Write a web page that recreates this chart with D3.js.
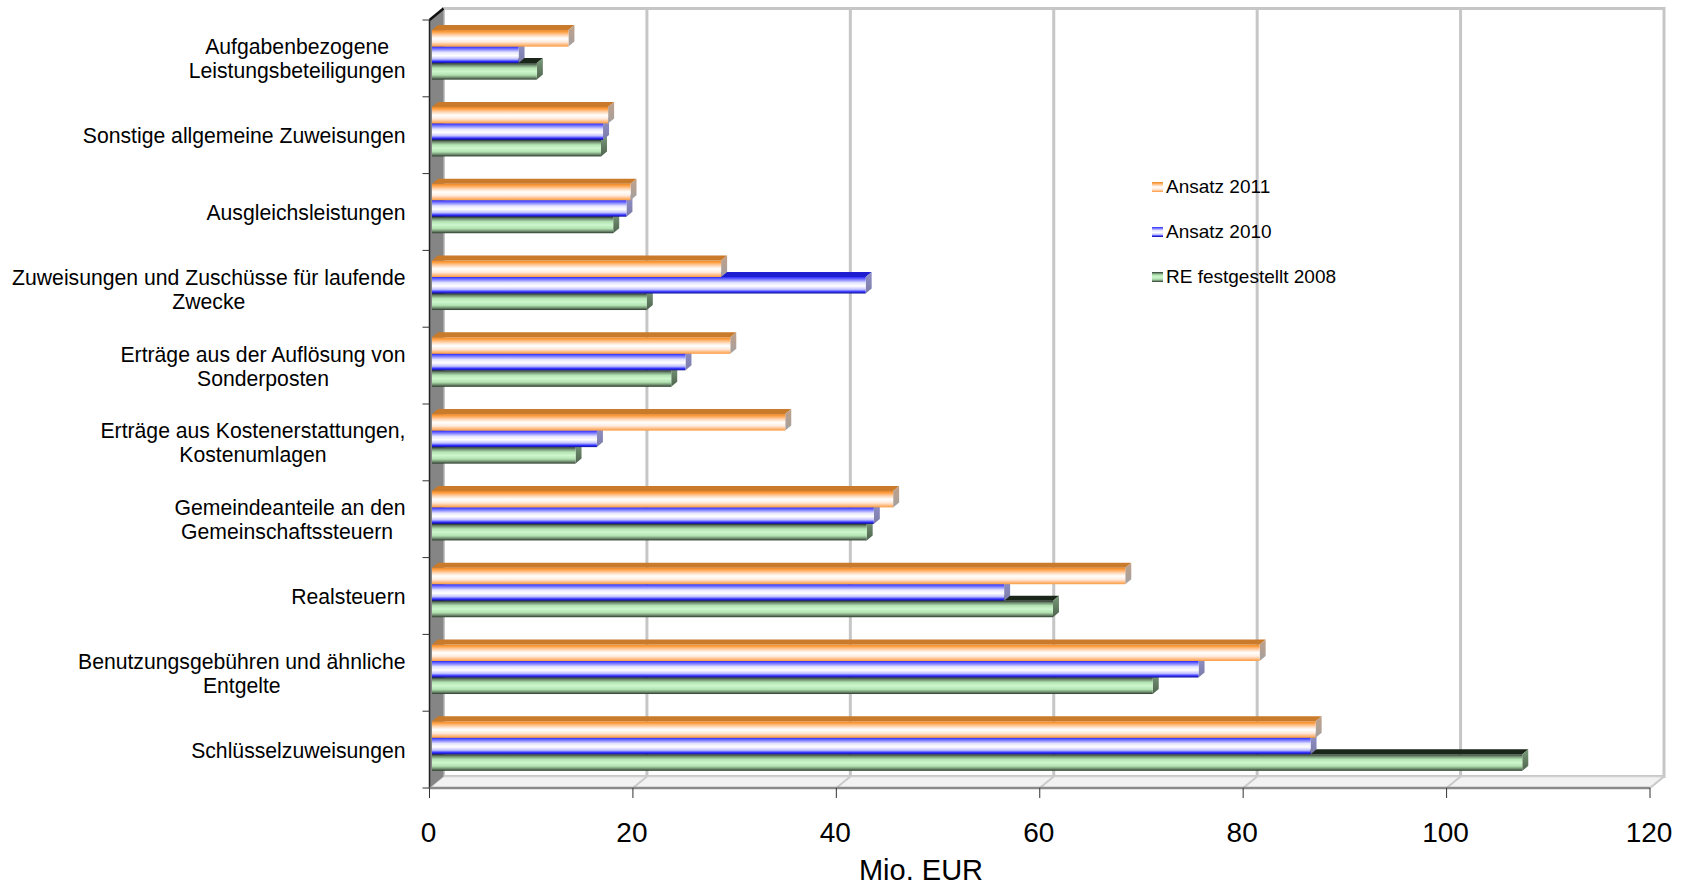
<!DOCTYPE html>
<html><head><meta charset="utf-8">
<script src="https://cdn.jsdelivr.net/npm/d3@7"></script>
<style>
body{margin:0;background:#fff}
svg{display:block}
text{font-family:"Liberation Sans", Arial, sans-serif; fill:#000}
</style>
</head><body>
<svg id="chart" width="1684" height="886"></svg>
<script>
// ---------------- data ----------------
const categories = [
  "Aufgabenbezogene\nLeistungsbeteiligungen",
  "Sonstige allgemeine Zuweisungen",
  "Ausgleichsleistungen",
  "Zuweisungen und Zuschüsse für laufende\nZwecke",
  "Erträge aus der Auflösung von\nSonderposten",
  "Erträge aus Kostenerstattungen,\nKostenumlagen",
  "Gemeindeanteile an den\nGemeinschaftssteuern ",
  "Realsteuern",
  "Benutzungsgebühren und ähnliche\nEntgelte",
  "Schlüsselzuweisungen"
];
const seriesNames = ["Ansatz 2011", "Ansatz 2010", "RE festgestellt 2008"];
const ansatz2011 = [13.4, 17.3, 19.5, 28.4, 29.3, 34.7, 45.3, 68.1, 81.3, 86.8];
const ansatz2010 = [8.5, 16.8, 19.1, 42.6, 24.9, 16.2, 43.4, 56.2, 75.3, 86.3];
const re2008     = [10.3, 16.6, 17.8, 21.1, 23.5, 14.1, 42.7, 61.0, 70.8, 107.1];
const xTicks = [0, 20, 40, 60, 80, 100, 120];
const axisTitle = "Mio. EUR";

// ---------------- layout ----------------
const svg = d3.select("#chart");
const front = {left: 429.5, right: 1650, top: 20, bottom: 788};
const depth = {dx: 14, dy: -11.5};
const bar3d = {dx: 6, dy: -5};

const x = d3.scaleLinear().domain([0, 120]).range([front.left, front.right]);
const xBar = d3.scaleLinear().domain([0, 120]).range([432, 432 + 120 * 10.18]);
const yCat = d3.scaleBand().domain(categories).range([front.top, front.bottom]);
const y = d3.scaleBand().domain(categories).range([front.top, front.bottom])
  .paddingInner(0.355).paddingOuter(0.1775).align(0.37);
const ySub = d3.scaleBand().domain(seriesNames).range([0, y.bandwidth()]);

const seriesData = {
  "Ansatz 2011": ansatz2011,
  "Ansatz 2010": ansatz2010,
  "RE festgestellt 2008": re2008
};

// ---------------- gradients ----------------
const defs = svg.append("defs");
const styles = {
  "Ansatz 2011": {
    id: "gOrange",
    stops: [[0, "#e08830"], [0.1, "#ff9a3a"], [0.3, "#ffd2ac"], [0.5, "#ffffff"], [0.72, "#ffeadc"], [0.9, "#ffb677"], [1, "#f79a40"]],
    top: "#c97a2a", side: ["#c0a088", "#a4a0a0"]
  },
  "Ansatz 2010": {
    id: "gBlue",
    stops: [[0, "#2a2aff"], [0.12, "#6a6aff"], [0.35, "#e6e6ff"], [0.55, "#ffffff"], [0.75, "#c4c4ff"], [0.9, "#2c2cff"], [1, "#12128a"]],
    top: "#1e1ed0", side: ["#9090c8", "#7c7ca8"]
  },
  "RE festgestellt 2008": {
    id: "gGreen",
    stops: [[0, "#26342a"], [0.12, "#6e8a6e"], [0.3, "#b4e4b4"], [0.5, "#cdf7cd"], [0.72, "#b2e2b2"], [0.88, "#6e8a6e"], [1, "#2a3a2a"]],
    top: "#1a261a", side: ["#7a9a7a", "#4e644e"]
  }
};
Object.values(styles).forEach(s => {
  const g = defs.append("linearGradient").attr("id", s.id)
    .attr("x1", 0).attr("y1", 0).attr("x2", 0).attr("y2", 1);
  s.stops.forEach(([o, c]) => g.append("stop").attr("offset", o).attr("stop-color", c));
  const gs = defs.append("linearGradient").attr("id", s.id + "Side")
    .attr("x1", 0).attr("y1", 0).attr("x2", 0).attr("y2", 1);
  gs.append("stop").attr("offset", 0).attr("stop-color", s.side[0]);
  gs.append("stop").attr("offset", 1).attr("stop-color", s.side[1]);
});

// ---------------- walls ----------------
const back = {
  left: front.left + depth.dx, right: front.right + depth.dx,
  top: front.top + depth.dy, bottom: front.bottom + depth.dy
};
const xBack = v => x(v) + depth.dx;

svg.append("rect")
  .attr("x", back.left).attr("y", back.top)
  .attr("width", back.right - back.left).attr("height", back.bottom - back.top)
  .attr("fill", "#fff").attr("stroke", "#c6c6c6").attr("stroke-width", 3);

svg.append("g").selectAll("line").data(xTicks.filter(v => v > 0 && v < 120)).join("line")
  .attr("x1", d => xBack(d)).attr("x2", d => xBack(d))
  .attr("y1", back.top).attr("y2", back.bottom)
  .attr("stroke", "#c6c6c6").attr("stroke-width", 3);

svg.append("polygon")
  .attr("points", [[front.left, front.bottom], [front.right, front.bottom], [back.right, back.bottom], [back.left, back.bottom]].join(" "))
  .attr("fill", "#f2f2f2").attr("stroke", "#d0d0d0").attr("stroke-width", 1.5);
svg.append("g").selectAll("line").data(xTicks.filter(v => v > 0)).join("line")
  .attr("x1", d => xBack(d)).attr("y1", back.bottom)
  .attr("x2", d => x(d)).attr("y2", front.bottom)
  .attr("stroke", "#cacaca").attr("stroke-width", 2);

svg.append("polygon")
  .attr("points", [[front.left, front.top], [back.left, back.top], [back.left, back.bottom], [front.left, front.bottom]].join(" "))
  .attr("fill", "#858585");
svg.append("line")
  .attr("x1", front.left).attr("x2", front.left).attr("y1", front.top).attr("y2", front.bottom)
  .attr("stroke", "#222").attr("stroke-width", 1.5);
svg.append("line")
  .attr("x1", front.left).attr("y1", front.top).attr("x2", back.left).attr("y2", back.top)
  .attr("stroke", "#111").attr("stroke-width", 2.5);

svg.append("line")
  .attr("x1", front.left).attr("x2", front.right).attr("y1", front.bottom).attr("y2", front.bottom)
  .attr("stroke", "#8a8a8a").attr("stroke-width", 2.5);

const yBounds = categories.map(c => yCat(c)).concat([front.bottom]);
svg.append("g").selectAll("line").data(yBounds).join("line")
  .attr("x1", front.left - 7).attr("x2", front.left)
  .attr("y1", d => d).attr("y2", d => d)
  .attr("stroke", "#333").attr("stroke-width", 1);

// ---------------- bars ----------------
const barsG = svg.append("g");
const drawOrder = ["RE festgestellt 2008", "Ansatz 2010", "Ansatz 2011"];
categories.forEach((cat, i) => {
  drawOrder.forEach(sn => {
    const v = seriesData[sn][i];
    const st = styles[sn];
    const x0 = xBar(0), x1 = xBar(v);
    const yt = y(cat) + ySub(sn), h = ySub.bandwidth();
    const g = barsG.append("g");
    g.append("polygon")
      .attr("points", [[x0, yt], [x1, yt], [x1 + bar3d.dx, yt + bar3d.dy], [x0 + bar3d.dx, yt + bar3d.dy]].join(" "))
      .attr("fill", st.top);
    g.append("polygon")
      .attr("points", [[x1, yt], [x1 + bar3d.dx, yt + bar3d.dy], [x1 + bar3d.dx, yt + h + bar3d.dy], [x1, yt + h]].join(" "))
      .attr("fill", `url(#${st.id}Side)`);
    g.append("rect")
      .attr("x", x0).attr("y", yt).attr("width", x1 - x0).attr("height", h)
      .attr("fill", `url(#${st.id})`);
  });
});

// ---------------- x axis ticks & labels ----------------
svg.append("g").selectAll("line").data(xTicks).join("line")
  .attr("x1", d => x(d)).attr("x2", d => x(d))
  .attr("y1", front.bottom).attr("y2", front.bottom + 10)
  .attr("stroke", "#333").attr("stroke-width", 1);
svg.append("g").selectAll("text").data(xTicks).join("text")
  .attr("x", d => x(d) - 1).attr("y", 842)
  .attr("text-anchor", "middle").attr("font-size", 28)
  .text(d => d);
svg.append("text")
  .attr("x", 921).attr("y", 880)
  .attr("text-anchor", "middle").attr("font-size", 29)
  .text(axisTitle);

// ---------------- category labels ----------------
const labelRight = 405.5, fs = 21.2, lh = 24;
categories.forEach(cat => {
  const lines = cat.split("\n");
  const cy = yCat(cat) + yCat.bandwidth() / 2;
  const g = svg.append("g");
  const texts = lines.map((ln, k) => g.append("text")
    .attr("font-size", fs)
    .attr("text-anchor", "middle")
    .style("white-space", "pre")
    .attr("y", cy + 8 + (k - (lines.length - 1) / 2) * lh)
    .text(ln));
  const w = d3.max(texts, t => t.node().getComputedTextLength());
  texts.forEach(t => t.attr("x", labelRight - w / 2));
});

// ---------------- legend ----------------
const legend = svg.append("g");
seriesNames.forEach((sn, k) => {
  const by = 193 + k * 45;
  legend.append("rect")
    .attr("x", 1152).attr("y", by - 11).attr("width", 11).attr("height", 10)
    .attr("fill", `url(#${styles[sn].id})`);
  legend.append("text")
    .attr("x", 1166).attr("y", by).attr("font-size", 19)
    .text(sn);
});
</script>
</body></html>
